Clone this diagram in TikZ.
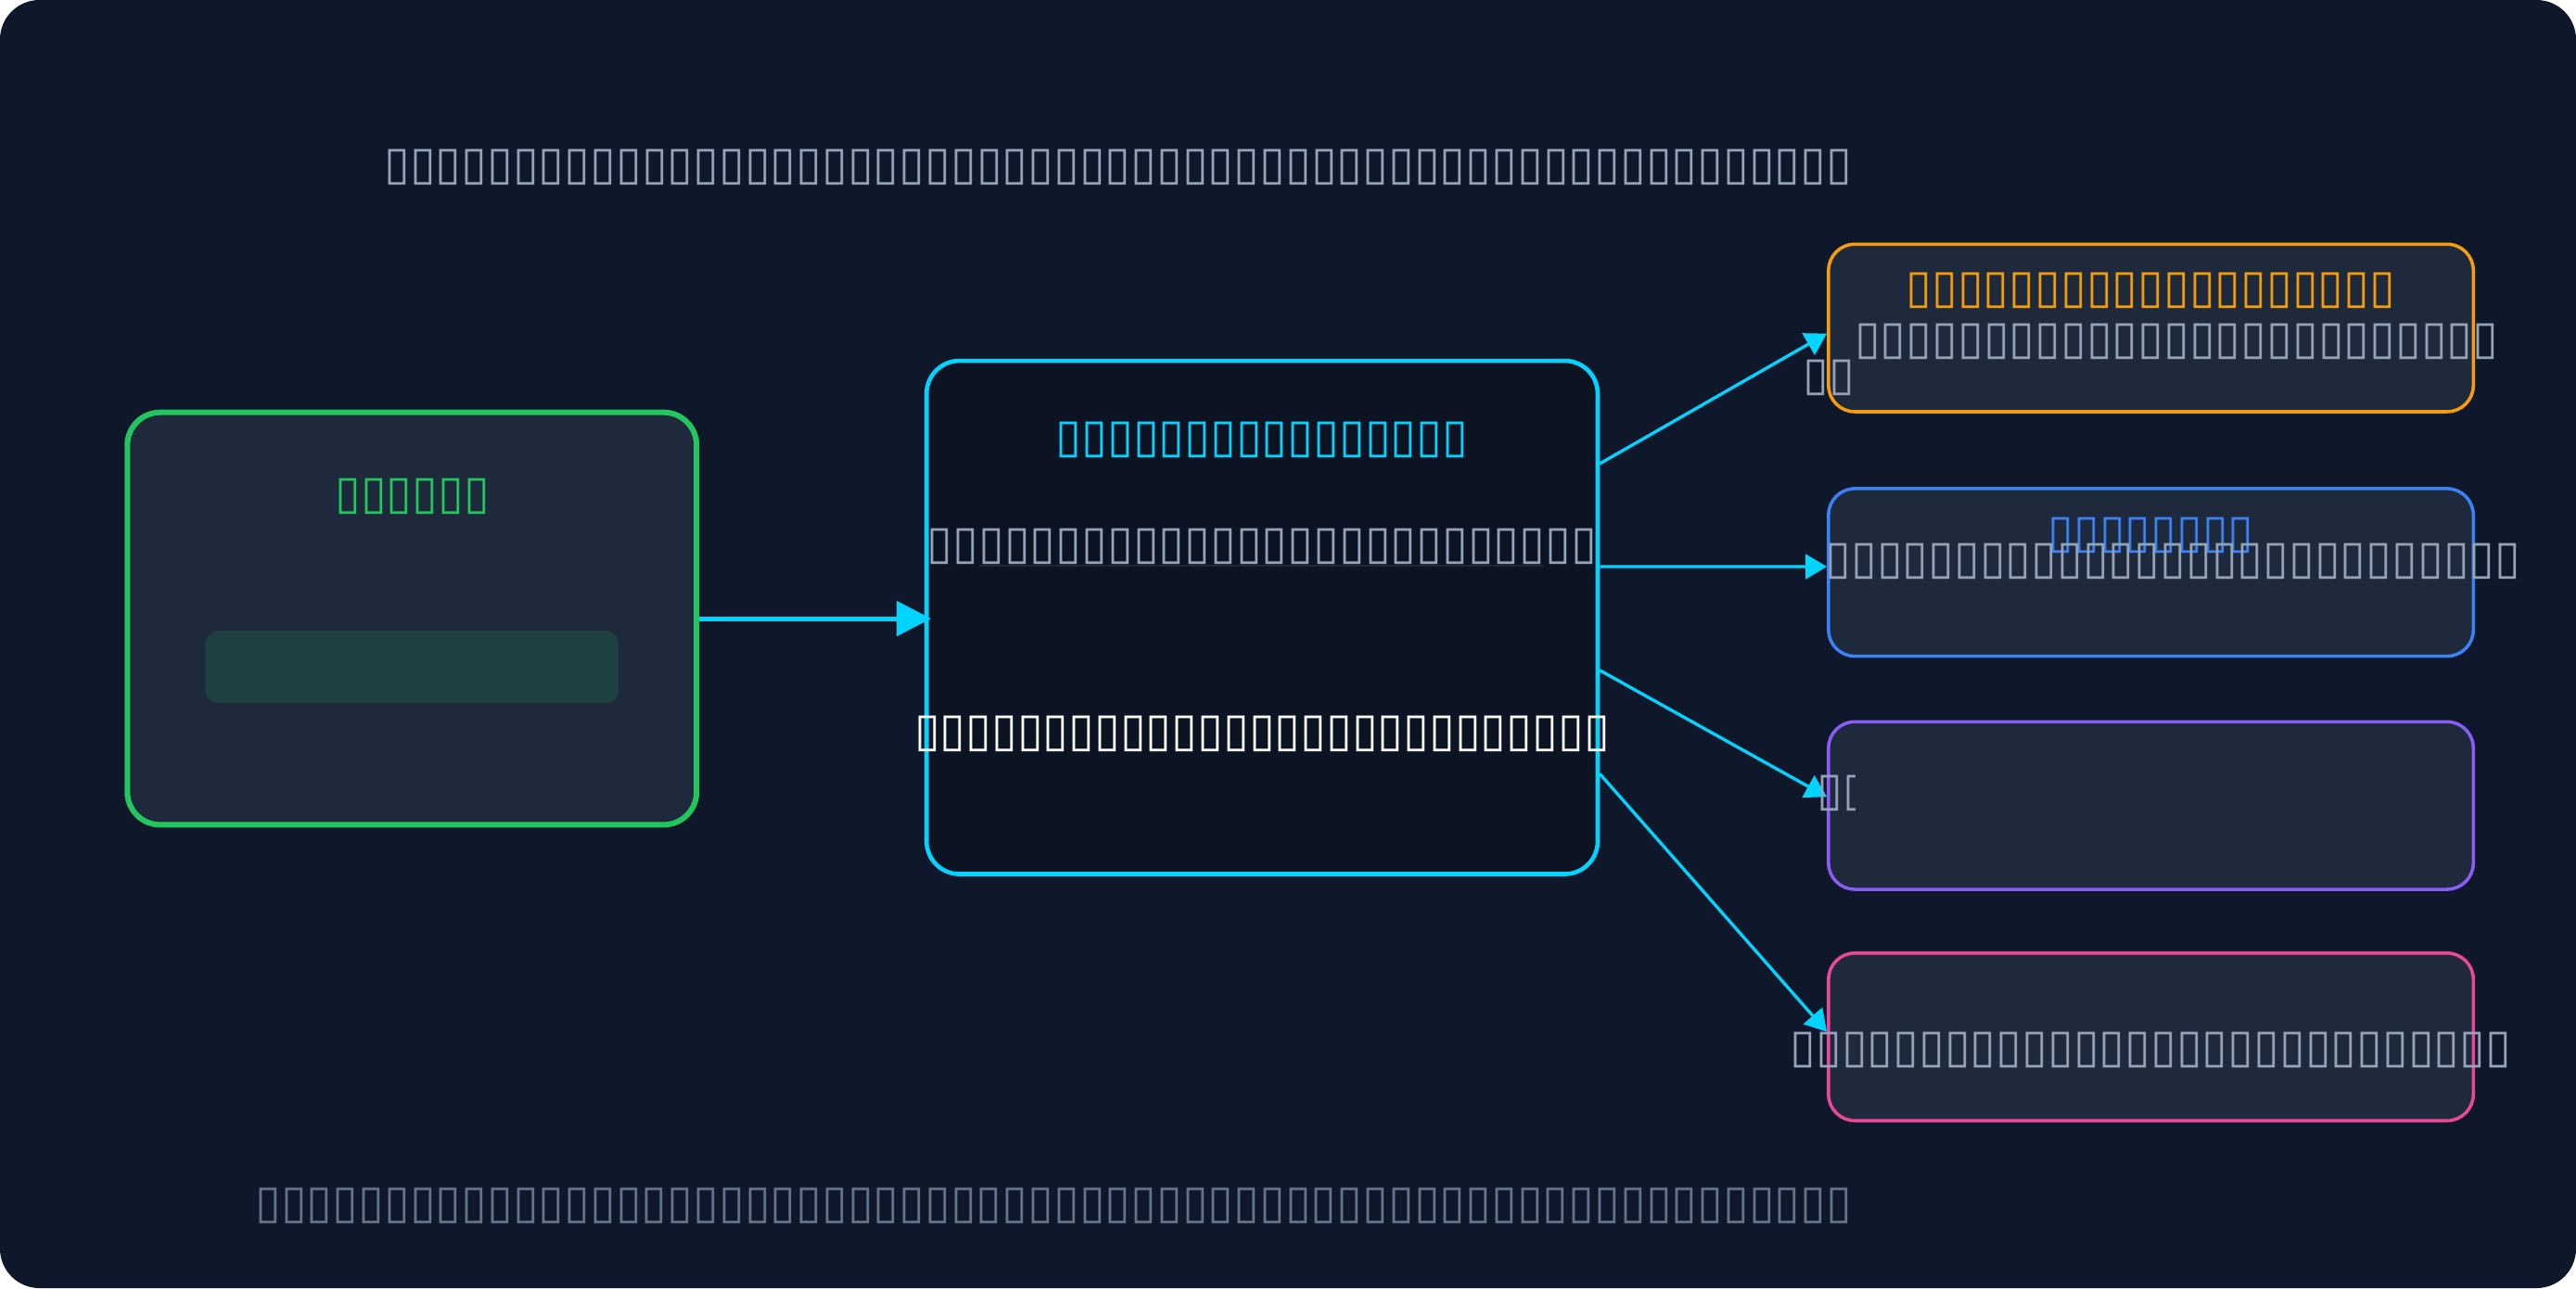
\documentclass[tikz,border=0pt]{standalone}
\usepackage{fontspec}
\setmainfont{DejaVu Sans}
\usetikzlibrary{arrows.meta}
\definecolor{bgnavy}{HTML}{0F172A}
\definecolor{cardfill}{HTML}{1E293B}
\definecolor{corefill}{HTML}{0C1323}
\definecolor{srcgreen}{HTML}{22C55E}
\definecolor{linkcyan}{HTML}{00D4FF}
\definecolor{outorange}{HTML}{F59E0B}
\definecolor{outblue}{HTML}{3B82F6}
\definecolor{outpurple}{HTML}{8B5CF6}
\definecolor{outpink}{HTML}{EC4899}
\definecolor{bodygray}{HTML}{94A3B8}
\definecolor{notegray}{HTML}{64748B}

\begin{document}
\begin{tikzpicture}[x=1pt,y=-1pt,
  card/.style={rectangle,rounded corners=16pt,fill=cardfill,line width=2pt,
    minimum width=392.5pt,minimum height=102pt,inner sep=0pt},
  txt/.style={inner sep=0pt,font=\fontsize{28.5}{32}\selectfont},
  link/.style={draw=linkcyan,line width=1.9pt,-{Triangle[length=13pt,width=15pt]}}]
\useasboundingbox (0,0) rectangle (1568,784);
\fill[white] (0,0) rectangle (1568,784);
\fill[bgnavy,rounded corners=24pt] (0,0) rectangle (1568,784);

\node[card,draw=srcgreen,line width=3.4pt,rounded corners=20pt,
  minimum width=346.5pt,minimum height=251pt] (source) at (250.75,376.5) {};
\node[fill=srcgreen,fill opacity=0.15,rounded corners=8pt,inner sep=0pt,
  minimum width=251.6pt,minimum height=44pt] (sourcebar) at (250.8,406) {};
\node[card,fill=corefill,draw=linkcyan,line width=2.6pt,rounded corners=20pt,
  minimum width=408.5pt,minimum height=312.4pt] (core) at (768.25,375.8) {};
\node[card,draw=outorange] (outa) at (1309.25,199.6) {};
\node[card,draw=outblue] (outb) at (1309.25,348.4) {};
\node[card,draw=outpurple] (outc) at (1309.25,490.3) {};
\node[card,draw=outpink] (outd) at (1309.25,631.1) {};
\draw[cardfill,line width=1.1pt] (596,344.3) -- (940,344.3);

\draw[link,line width=2.8pt,-{Triangle[length=21pt,width=21pt]},shorten >=-4pt]
  (source.east) -- (source.east -| core.west);
\draw[link] ([yshift=93.6pt]core.east) -- ([yshift=-3.4pt]outa.west);
\draw[link] ([yshift=30.9pt]core.east) -- ([yshift=3.5pt]outb.west);
\draw[link] ([yshift=-32.2pt]core.east) -- ([yshift=5.3pt]outc.west);
\draw[link] ([yshift=-95.2pt]core.east) -- ([yshift=3.1pt]outd.west);

\node[txt,text=bodygray,anchor=east] (heading) at (1128,102) {▯▯▯▯▯▯▯▯▯▯▯▯▯▯▯▯▯▯▯▯▯▯▯▯▯▯▯▯▯▯▯▯▯▯▯▯▯▯▯▯▯▯▯▯▯▯▯▯▯▯▯▯▯▯▯▯▯};
\node[txt,text=srcgreen] (sourcetitle) at (251,302.4) {▯▯▯▯▯▯};
\node[txt,text=linkcyan] (coretitle) at (768.25,267.5) {▯▯▯▯▯▯▯▯▯▯▯▯▯▯▯▯};
\node[txt,text=bodygray] (corebody) at (768.25,332.5) {▯▯▯▯▯▯▯▯▯▯▯▯▯▯▯▯▯▯▯▯▯▯▯▯▯▯};
\node[txt,text=white] (corenote) at (768.25,446.4) {▯▯▯▯▯▯▯▯▯▯▯▯▯▯▯▯▯▯▯▯▯▯▯▯▯▯▯};
\node[txt,text=outorange] (outatitle) at (1309.25,177) {▯▯▯▯▯▯▯▯▯▯▯▯▯▯▯▯▯▯▯};
\node[txt,text=bodygray] (outabody) at (1325,208.2) {▯▯▯▯▯▯▯▯▯▯▯▯▯▯▯▯▯▯▯▯▯▯▯▯▯};
\node[txt,text=bodygray] (outatail) at (1113.3,230.2) {▯▯};
\node[txt,text=outblue] (outbtitle) at (1309.25,326) {▯▯▯▯▯▯▯▯};
\node[txt,text=bodygray] (outbbody) at (1322.8,341.5) {▯▯▯▯▯▯▯▯▯▯▯▯▯▯▯▯▯▯▯▯▯▯▯▯▯▯▯};
\begin{scope}
  \clip (1100,470) rectangle (1129,496);
  \node[txt,text=bodygray,anchor=west] (outcbody) at (1106,482.7) {▯▯};
\end{scope}
\node[txt,text=bodygray] (outdbody) at (1309.25,639) {▯▯▯▯▯▯▯▯▯▯▯▯▯▯▯▯▯▯▯▯▯▯▯▯▯▯▯▯};
\node[txt,text=notegray,anchor=east] (footnote) at (1128,733.8) {▯▯▯▯▯▯▯▯▯▯▯▯▯▯▯▯▯▯▯▯▯▯▯▯▯▯▯▯▯▯▯▯▯▯▯▯▯▯▯▯▯▯▯▯▯▯▯▯▯▯▯▯▯▯▯▯▯▯▯▯▯▯};
\end{tikzpicture}
\end{document}
